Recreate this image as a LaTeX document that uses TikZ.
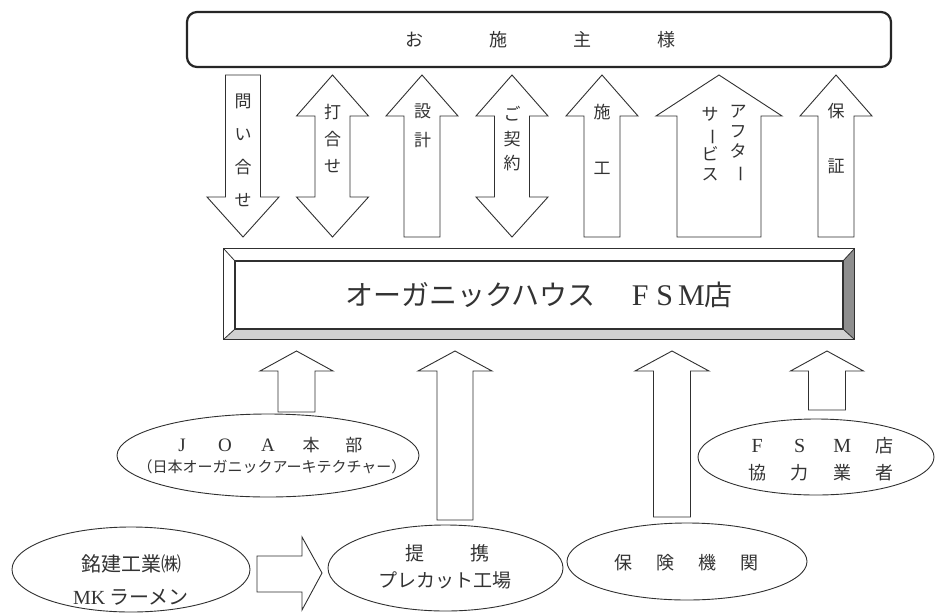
\documentclass[tikz,border=0pt]{standalone}
\usepackage{fontspec}
\setmainfont{Liberation Serif}
\newfontfamily\jp{Noto Sans CJK JP}
\usepackage{graphicx}
\usetikzlibrary{shapes.geometric}
\newcommand\vbar{\rotatebox[origin=c]{-90}{ー}}
\newcommand\spc[2]{\makebox[#1][c]{#2}}
\definecolor{lineclr}{HTML}{303030}
\definecolor{txtclr}{HTML}{333333}
\definecolor{bevlight}{HTML}{D0D0D0}
\definecolor{bevdark}{HTML}{8E8E8E}
\newcommand\blkup[6]{\draw[blockarrow] (#1,#4) -- ({#1+#3},#5) -- ({#1+#2},#5) -- ({#1+#2},#6) -- ({#1-#2},#6) -- ({#1-#2},#5) -- ({#1-#3},#5) -- cycle;}
\newcommand\blkdown[6]{\draw[blockarrow] ({#1-#2},#4) -- ({#1+#2},#4) -- ({#1+#2},#5) -- ({#1+#3},#5) -- (#1,#6) -- ({#1-#3},#5) -- ({#1-#2},#5) -- cycle;}
\newcommand\blkboth[7]{\draw[blockarrow] (#1,#4) -- ({#1+#3},#5) -- ({#1+#2},#5) -- ({#1+#2},#6) -- ({#1+#3},#6) -- (#1,#7) -- ({#1-#3},#6) -- ({#1-#2},#6) -- ({#1-#2},#5) -- ({#1-#3},#5) -- cycle;}
\tikzset{
  blockarrow/.style={draw=lineclr, line width=0.9pt, fill=white, line join=miter},
  oval/.style={ellipse, draw=lineclr, line width=0.9pt, inner sep=0pt},
  lbl/.style={text=txtclr, inner sep=0pt, align=center},
  vlbl/.style={lbl, font=\jp\fontsize{17}{#1}\selectfont},
}
\begin{document}
\begin{tikzpicture}[x=1pt,y=-1pt]
\useasboundingbox (0,0) rectangle (935,614);
\fill[white] (0,0) rectangle (935,614);

% client box
\node[draw=black!85, rounded corners=10pt, line width=2.2pt, minimum width=704pt, minimum height=55pt] (client) at (539,39.5) {};
\node[lbl, font=\jp\fontsize{18}{18}\selectfont] (clienttext) at (540,40) {\spc{84pt}{お}\spc{84pt}{施}\spc{84pt}{主}\spc{84pt}{様}};

% top arrows
\blkdown{243}{17.5}{36}{75}{197}{237}
\blkboth{332.5}{17.5}{36}{75}{116}{197}{237}
\blkup{422}{18}{36}{75}{116}{237}
\blkboth{512}{17.5}{36}{75}{116}{197}{237}
\blkup{602}{18}{36}{75}{116}{237}
\blkup{719}{42}{63}{75}{116}{237}
\blkup{836}{18}{36}{75}{116}{237}

\node[vlbl=33] (lq) at (243,150) {問\\い\\合\\せ};
\node[vlbl=27] (lm) at (332.5,138) {打\\合\\せ};
\node[vlbl=29] (ld) at (422.5,125.5) {設\\計};
\node[vlbl=24.5] (lc) at (512,139) {ご\\契\\約};
\node[vlbl=56] (ls) at (602,139) {施\\工};
\node[vlbl=20] (la1) at (738,144) {ア\\フ\\タ\\\vbar};
\node[vlbl=20] (la2) at (710,144) {サ\\\vbar\\ビ\\ス};
\node[vlbl=55] (lg) at (836,138.5) {保\\証};

% main beveled box
\node[minimum width=630pt, minimum height=90pt, inner sep=0pt] (shop) at (539,294) {};
\fill[white] (224,249) -- (854,249) -- (843,261) -- (235,261) -- cycle;
\fill[white] (224,249) -- (235,261) -- (235,329) -- (224,339) -- cycle;
\fill[bevlight] (224,339) -- (854,339) -- (843,329) -- (235,329) -- cycle;
\fill[bevdark] (854,249) -- (854,339) -- (843,329) -- (843,261) -- cycle;
\draw[lineclr, line width=1.3pt] (shop.north west) rectangle (shop.south east);
\draw[lineclr, line width=1.1pt] (235,261) rectangle (843,329);
\draw[lineclr, line width=0.8pt] (shop.north west) -- (235,261) (shop.north east) -- (843,261)
  (shop.south west) -- (235,329) (shop.south east) -- (843,329);
\node[lbl, font=\jp\fontsize{28}{28}\selectfont] (shoptext) at (539,295)
  {オーガニックハウス\hspace{36pt}{\rmfamily\fontsize{30}{30}\selectfont F\hspace{8pt}S\hspace{5pt}M}店};

% bottom arrows
\blkup{296.5}{18.5}{36.5}{351}{371}{412}
\blkup{455}{18}{37}{351}{371}{520}
\blkup{672}{18.5}{37}{351}{371}{517}
\blkup{827}{18.5}{36.5}{351}{371}{410}

% ellipses
\node[oval, minimum width=302pt, minimum height=83pt] (joa) at (268,455.5) {};
\node[lbl, font=\jp\fontsize{17}{17}\selectfont] (joa1) at (268,445)
  {\spc{43pt}{\rmfamily\fontsize{19}{19}\selectfont J}\spc{43pt}{\rmfamily\fontsize{19}{19}\selectfont O}\spc{43pt}{\rmfamily\fontsize{19}{19}\selectfont A}\spc{43pt}{本}\spc{43pt}{部}};
\node[lbl, font=\jp\fontsize{15}{15}\selectfont] (joa2) at (272,467) {（日本オーガニックアーキテクチャー）};

\node[oval, minimum width=236pt, minimum height=76pt] (fsm) at (816,457) {};
\node[lbl, font=\jp\fontsize{18}{18}\selectfont] (fsm1) at (821,446)
  {\spc{42.5pt}{\rmfamily\fontsize{20}{20}\selectfont F}\spc{42.5pt}{\rmfamily\fontsize{20}{20}\selectfont S}\spc{42.5pt}{\rmfamily\fontsize{20}{20}\selectfont M}\spc{42.5pt}{店}};
\node[lbl, font=\jp\fontsize{18}{18}\selectfont] (fsm2) at (821,473)
  {\spc{42.5pt}{協}\spc{42.5pt}{力}\spc{42.5pt}{業}\spc{42.5pt}{者}};

\node[oval, minimum width=238pt, minimum height=85pt] (meiken) at (131,569.5) {};
\node[lbl, font=\jp\fontsize{20}{20}\selectfont] (mk1) at (131,564) {銘建工業㈱};
\node[lbl, font=\jp\fontsize{20}{20}\selectfont] (mk2) at (131,597) {{\rmfamily MK} ラーメン};

\node[oval, minimum width=235pt, minimum height=86pt] (precut) at (445.5,568) {};
\node[lbl, font=\jp\fontsize{19}{19}\selectfont] (pc1) at (447.5,553) {\spc{65pt}{提}\spc{65pt}{携}};
\node[lbl, font=\jp\fontsize{19}{19}\selectfont] (pc2) at (445,580) {プレカット工場};

\node[oval, minimum width=240pt, minimum height=77pt] (hoken) at (687,561.5) {};
\node[lbl, font=\jp\fontsize{18}{18}\selectfont] (hk) at (686.5,563)
  {\spc{42pt}{保}\spc{42pt}{険}\spc{42pt}{機}\spc{42pt}{関}};

% horizontal arrow from meiken to precut
\coordinate (ha0) at (257,556);
\coordinate (hatip) at (322,573);
\draw[blockarrow] (ha0) -- (302,556) -- (302,537) -- (hatip) -- (302,610) -- (302,592) -- (ha0 |- 0,592) -- cycle;
\end{tikzpicture}
\end{document}
